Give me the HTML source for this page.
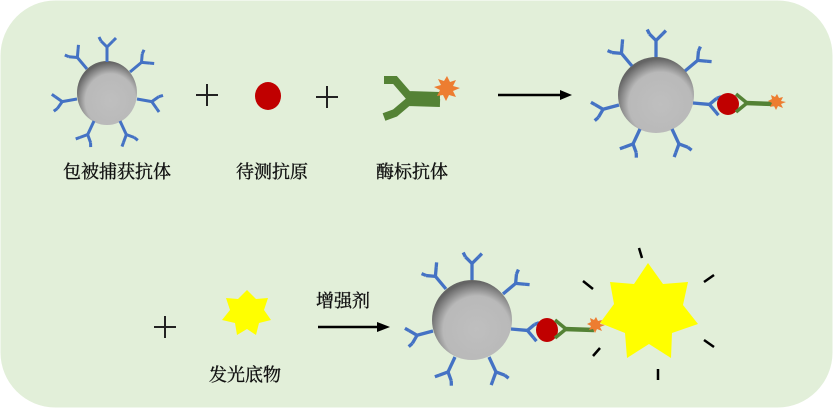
<!DOCTYPE html>
<html><head><meta charset="utf-8"><style>
html,body{margin:0;padding:0;background:#fff;}
svg{display:block;}
text{font-family:"Liberation Serif","Noto Serif CJK SC","Noto Sans CJK SC",serif;font-size:18px;fill:#111;stroke:#111;stroke-width:0.35;}
</style></head><body>
<svg width="833" height="408" viewBox="0 0 833 408" xmlns="http://www.w3.org/2000/svg">
<defs>
<radialGradient id="bead" cx="56%" cy="62%" r="60%">
<stop offset="0" stop-color="#bfbfbf"/><stop offset="0.7" stop-color="#b9b9b9"/><stop offset="1" stop-color="#646464"/>
</radialGradient>
<g id="ab" stroke="#4472c4" stroke-width="3" fill="none" stroke-linecap="butt">
<line x1="0" y1="0" x2="0" y2="-15"/>
<line x1="0" y1="-15" x2="-6" y2="-21"/>
<line x1="0" y1="-15" x2="6" y2="-21"/>
<line x1="-6" y1="-21" x2="-8" y2="-25"/>
<line x1="6" y1="-21" x2="9" y2="-24"/>
</g>
<g id="gab" stroke="#548235" fill="none" stroke-linecap="butt">
<line x1="0" y1="0" x2="-11" y2="-9" stroke-width="3.5"/>
<line x1="0" y1="0" x2="-11" y2="9" stroke-width="3.5"/>
<line x1="-2" y1="0" x2="28" y2="1" stroke-width="4.5"/>
</g>
</defs>
<rect x="0.5" y="0.5" width="832" height="407" rx="55" ry="55" fill="#e2efd9"/>

<ellipse cx="107" cy="93" rx="30" ry="32" fill="url(#bead)"/>
<use href="#ab" transform="translate(107,62) rotate(0)"/>
<use href="#ab" transform="translate(130,72) rotate(50)"/>
<use href="#ab" transform="translate(137,99) rotate(100)"/>
<use href="#ab" transform="translate(120,121) rotate(155)"/>
<use href="#ab" transform="translate(94,121) rotate(205)"/>
<use href="#ab" transform="translate(77,99) rotate(260)"/>
<use href="#ab" transform="translate(87,69) rotate(-40)"/>

<g stroke="#222" stroke-width="2">
<line x1="196" y1="95" x2="218" y2="95"/><line x1="207" y1="84" x2="207" y2="106"/>
<line x1="316" y1="97" x2="338" y2="97"/><line x1="327" y1="86" x2="327" y2="108"/>
<line x1="154" y1="327" x2="176" y2="327"/><line x1="165" y1="316" x2="165" y2="338"/>
</g>
<ellipse cx="268" cy="96" rx="13" ry="14" fill="#c00000"/>

<g stroke="#548235" fill="none">
<polyline points="384,80 395,80 408,95 440,96" stroke-width="8"/>
<polyline points="384,117 395,113 408,102 440,103" stroke-width="8"/>
</g>
<polygon points="447,76 450,82 456,80 453,86 460,88 453,91 456,97 449,95 446,101 443,95 437,96 440,90 434,87 441,85 438,79 444,81" fill="#ed7d31"/>

<line x1="498" y1="95" x2="562" y2="95" stroke="#000" stroke-width="2.5"/>
<polygon points="572,95 560,90 560,100" fill="#000"/>
<line x1="318" y1="327" x2="378" y2="327" stroke="#000" stroke-width="2.5"/>
<polygon points="390,327 377,322 377,332" fill="#000"/>

<circle cx="656" cy="95" r="38" fill="url(#bead)"/>
<use href="#ab" transform="translate(656,57) rotate(0) scale(1.1)"/>
<use href="#ab" transform="translate(685,71) rotate(50) scale(1.1)"/>
<use href="#ab" transform="translate(693,103) rotate(95) scale(1.1)"/>
<use href="#ab" transform="translate(672,129) rotate(155) scale(1.1)"/>
<use href="#ab" transform="translate(640,129) rotate(205) scale(1.1)"/>
<use href="#ab" transform="translate(619,105) rotate(255) scale(1.1)"/>
<use href="#ab" transform="translate(632,66) rotate(-40) scale(1.1)"/>
<circle cx="728" cy="104" r="11" fill="#c00000"/>
<use href="#gab" transform="translate(747,103)"/>
<polygon points="777,94 779,98 783,97 781,101 786,102 781,104 783,108 778,106 776,110 774,106 770,107 772,103 768,101 772,99 771,95 775,97" fill="#ed7d31"/>

<polygon points="247,290 256,299 268,298 264,310 271,320 259,323 256,335 247,329 237,335 235,323 222,320 230,310 226,298 238,299" fill="#ffff00"/>

<circle cx="472" cy="320" r="40" fill="url(#bead)"/>
<use href="#ab" transform="translate(472,280) rotate(0) scale(1.1)"/>
<use href="#ab" transform="translate(503,294) rotate(50) scale(1.1)"/>
<use href="#ab" transform="translate(511,329) rotate(95) scale(1.1)"/>
<use href="#ab" transform="translate(489,357) rotate(155) scale(1.1)"/>
<use href="#ab" transform="translate(455,357) rotate(205) scale(1.1)"/>
<use href="#ab" transform="translate(433,331) rotate(255) scale(1.1)"/>
<use href="#ab" transform="translate(446,289) rotate(-40) scale(1.1)"/>
<ellipse cx="547" cy="330" rx="11" ry="12" fill="#c00000"/>
<use href="#gab" transform="translate(566,329)"/>
<polygon points="596,317 598,321 602,320 600,324 605,325 600,327 602,331 597,329 595,333 593,329 589,330 591,326 587,324 591,322 590,318 594,320" fill="#ed7d31"/>

<polygon points="648,263 663,284 688,282 683,305 698,324 672,333 671,358 649,344 627,358 625,333 600,323 614,304 610,282 634,284" fill="#ffff00"/>
<g stroke="#000" stroke-width="2.5">
<line x1="639" y1="248" x2="642" y2="258"/>
<line x1="583" y1="281" x2="593" y2="289"/>
<line x1="704" y1="282" x2="714" y2="275"/>
<line x1="593" y1="356" x2="600" y2="348"/>
<line x1="704" y1="340" x2="714" y2="347"/>
<line x1="658" y1="369" x2="658" y2="380"/>
</g>

<text x="117" y="178" text-anchor="middle">包被捕获抗体</text>
<text x="272" y="178" text-anchor="middle">待测抗原</text>
<text x="412" y="178" text-anchor="middle">酶标抗体</text>
<text x="245" y="381" text-anchor="middle">发光底物</text>
<text x="343" y="307" text-anchor="middle">增强剂</text>
</svg>
</body></html>
